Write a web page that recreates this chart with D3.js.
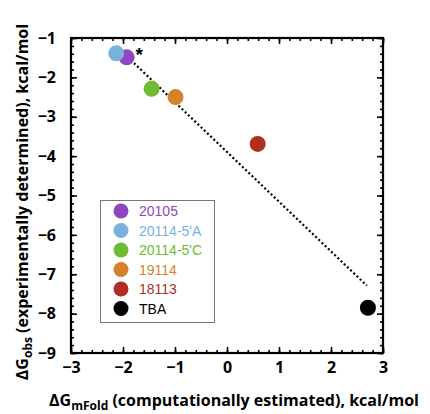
<!DOCTYPE html>
<html>
<head>
<meta charset="utf-8">
<script src="https://cdn.jsdelivr.net/npm/d3@7"></script>
<style>
  body { margin: 0; background: #fff; }
  svg { display: block; }
  .tick text { font-family: "Open Sans", sans-serif; font-weight: 700; font-size: 16px; fill: #000; }
  .axis-title { font-family: "Open Sans", sans-serif; font-weight: 700; font-size: 16px; }
  .legend text { font-family: "Liberation Sans", Arial, sans-serif; font-size: 14px; }
</style>
</head>
<body>
<svg id="chart" width="430" height="414"></svg>
<script>
// data
var labels = ["20105", "20114-5'A", "20114-5'C", "19114", "18113", "TBA"];
var dgFold = [-1.93, -2.13, -1.45, -0.99, 0.59, 2.71];   // computed (x)
var dgObs = [-1.49, -1.39, -2.29, -2.50, -3.69, -7.85];   // measured (y)
var colors = ["#8e45bd", "#7ab1dc", "#6fbb32", "#d4822b", "#b12c22", "#000000"];
var fitX = [-1.85, 2.69];
var fitY = [-1.56, -7.29];
var starAt = [-1.69, -1.22];
var xTicks = [-3, -2, -1, 0, 1, 2, 3];
var yTicks = [-1, -2, -3, -4, -5, -6, -7, -8, -9];

var svg = d3.select('#chart'),
    plotL = 71, plotR = 383, plotT = 38, plotB = 353;

var x = d3.scaleLinear().domain([-3, 3]).range([plotL, plotR]);
var y = d3.scaleLinear().domain([-1, -9]).range([plotT, plotB]);

var minorX = d3.range(-3, 3.001, 0.2), minorY = d3.range(-9, -0.999, 0.2);

// axes, ticks pointing inward on all four sides
function styleAxis(g) {
    g.selectAll('.domain').remove();
    g.selectAll('line').attr('stroke', '#000').attr('stroke-width', 1.6);
}

svg.append('g').attr('transform', 'translate(0,' + plotB + ')')
    .call(d3.axisBottom(x).tickValues(minorX).tickSize(-3).tickFormat(''))
    .call(styleAxis);
svg.append('g').attr('transform', 'translate(0,' + plotB + ')')
    .call(d3.axisBottom(x).tickValues(xTicks).tickSize(-6).tickPadding(9).tickFormat(d3.format('d')))
    .call(styleAxis);
svg.append('g').attr('transform', 'translate(0,' + plotT + ')')
    .call(d3.axisTop(x).tickValues(minorX).tickSize(-3).tickFormat(''))
    .call(styleAxis);
svg.append('g').attr('transform', 'translate(0,' + plotT + ')')
    .call(d3.axisTop(x).tickValues(xTicks).tickSize(-6).tickFormat(''))
    .call(styleAxis);

svg.append('g').attr('transform', 'translate(' + plotL + ',0)')
    .call(d3.axisLeft(y).tickValues(minorY).tickSize(-3).tickFormat(''))
    .call(styleAxis);
svg.append('g').attr('transform', 'translate(' + plotL + ',0)')
    .call(d3.axisLeft(y).tickValues(yTicks).tickSize(-6).tickPadding(15).tickFormat(d3.format('d')))
    .call(styleAxis);
svg.append('g').attr('transform', 'translate(' + plotR + ',0)')
    .call(d3.axisRight(y).tickValues(minorY).tickSize(-3).tickFormat(''))
    .call(styleAxis);
svg.append('g').attr('transform', 'translate(' + plotR + ',0)')
    .call(d3.axisRight(y).tickValues(yTicks).tickSize(-6).tickFormat(''))
    .call(styleAxis);

// frame
svg.append('rect')
    .attr('x', plotL).attr('y', plotT)
    .attr('width', plotR - plotL).attr('height', plotB - plotT)
    .attr('fill', 'none').attr('stroke', '#000').attr('stroke-width', 2.2);

// dotted fit line
svg.append('line')
    .attr('x1', x(fitX[0])).attr('y1', y(fitY[0]))
    .attr('x2', x(fitX[1])).attr('y2', y(fitY[1]))
    .attr('stroke', '#000').attr('stroke-width', 2.2)
    .attr('stroke-dasharray', '2,2.4');

// points
svg.selectAll('circle.pt')
    .data(labels)
    .enter()
    .append('circle')
    .attr('class', 'pt')
    .attr('cx', function (d, i) { return x(dgFold[i]); })
    .attr('cy', function (d, i) { return y(dgObs[i]); })
    .attr('r', 8)
    .attr('fill', function (d, i) { return colors[i]; });

svg.append('text')
    .attr('x', x(starAt[0])).attr('y', y(starAt[1]))
    .attr('text-anchor', 'middle')
    .attr('dy', '0.75em')
    .style('font-family', 'Liberation Sans, Arial, sans-serif')
    .style('font-weight', 700)
    .style('font-size', '19px')
    .text('*');

// legend
var legend = svg.append('g').attr('class', 'legend');
legend.append('rect')
    .attr('x', 100.5).attr('y', 200.5).attr('width', 114).attr('height', 122)
    .attr('fill', '#fff').attr('stroke', '#777').attr('stroke-width', 1);

var rows = legend.selectAll('g.row')
    .data(labels)
    .enter()
    .append('g')
    .attr('class', 'row')
    .attr('transform', function (d, i) {
        return 'translate(121,' + (211 + i * 19.5) + ')';
    });
rows.append('circle').attr('r', 7.5).attr('fill', function (d, i) { return colors[i]; });
rows.append('text')
    .attr('x', 18).attr('dy', '0.36em')
    .attr('fill', function (d, i) { return colors[i]; })
    .text(function (d) { return d; });

// axis titles
var xt = svg.append('text').attr('class', 'axis-title')
    .attr('x', 234).attr('y', 406).attr('text-anchor', 'middle');
xt.append('tspan').text('ΔG');
xt.append('tspan').attr('dy', 4).style('font-size', '12px').text('mFold');
xt.append('tspan').attr('dy', -4).text(' (computationally estimated), kcal/mol');

var yt = svg.append('text').attr('class', 'axis-title')
    .attr('transform', 'translate(28,' + 202 + ') rotate(-90)')
    .attr('text-anchor', 'middle');
yt.append('tspan').text('ΔG');
yt.append('tspan').attr('dy', 4).style('font-size', '12px').text('obs');
yt.append('tspan').attr('dy', -4).text(' (experimentally determined), kcal/mol');
</script>
</body>
</html>
